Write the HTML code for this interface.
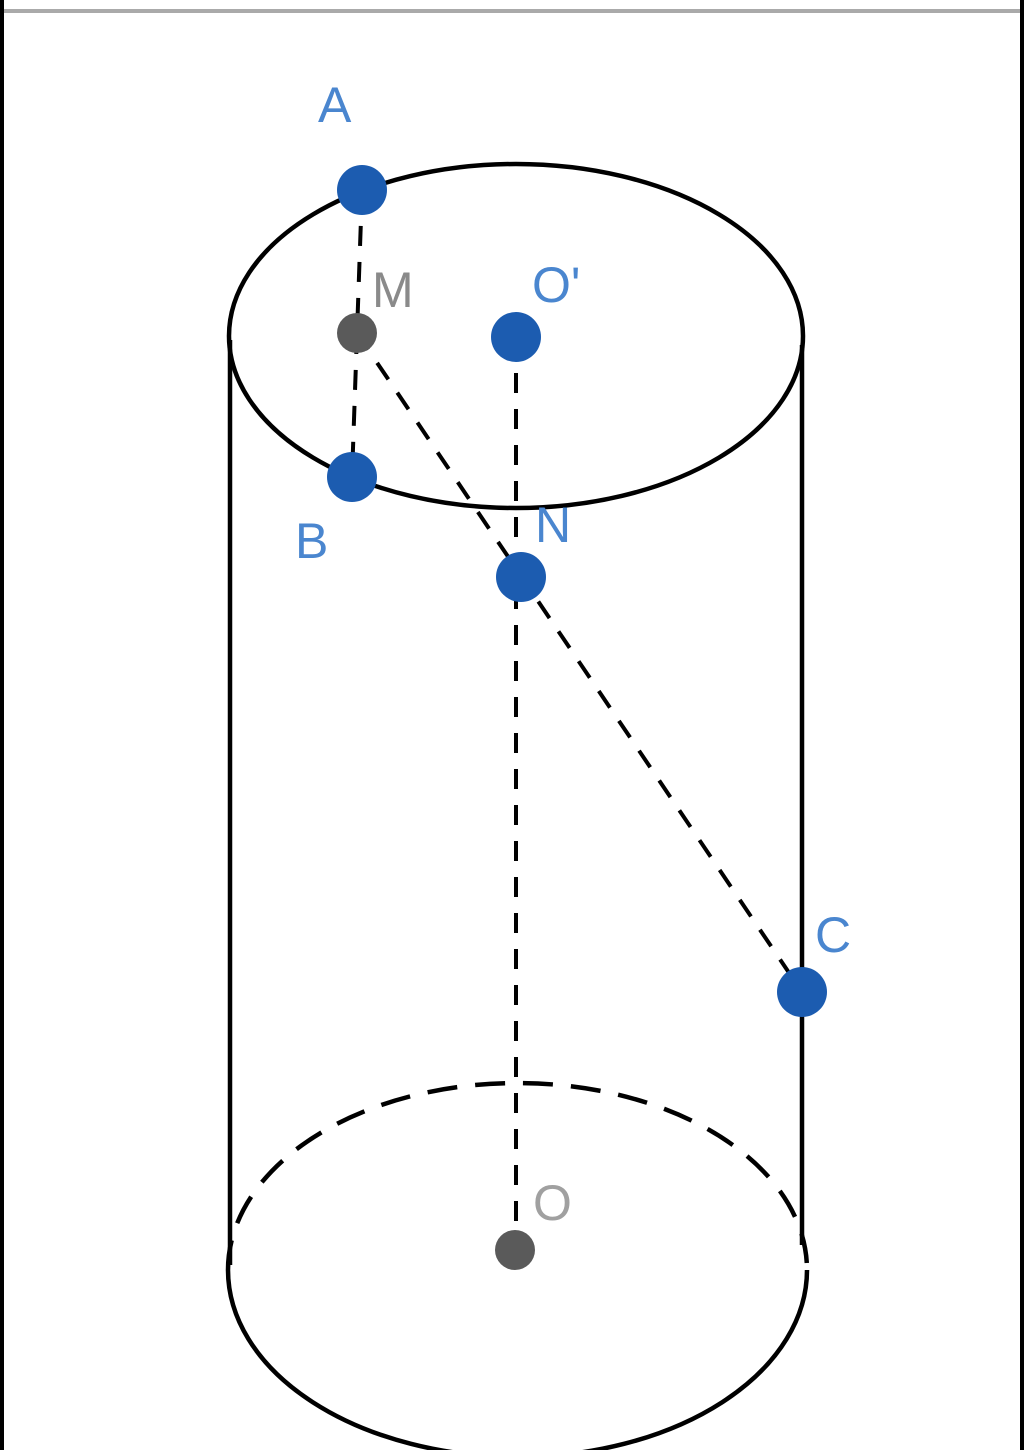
<!DOCTYPE html>
<html><head><style>html,body{margin:0;padding:0;background:#fff;}</style></head>
<body>
<svg width="1024" height="1450" viewBox="0 0 1024 1450" xmlns="http://www.w3.org/2000/svg">
<rect x="0" y="0" width="1024" height="1450" fill="#fff"/>
<rect x="0" y="0" width="4" height="1450" fill="#000"/>
<rect x="1020" y="0" width="4" height="1450" fill="#000"/>
<rect x="4" y="9" width="1016" height="4" fill="#aaa"/>
<g fill="none" stroke="#000" stroke-width="4.5">
<ellipse cx="516" cy="336" rx="287" ry="172"/>
<line x1="230" y1="340" x2="230" y2="1265"/>
<line x1="802" y1="345" x2="802" y2="1245"/>
<path d="M228 1270 A288 186 0 0 0 807 1270"/>
<path d="M228 1270 A288 186 0 0 1 807 1270" stroke-dasharray="30 18"/>
<g stroke-width="4" stroke-dasharray="20 16">
<line x1="362" y1="190" x2="352" y2="477"/>
<line x1="357" y1="333" x2="802" y2="992"/>
<line x1="516" y1="337" x2="516" y2="1250"/>
</g>
</g>
<g fill="#1c5cb0">
<circle cx="362" cy="190" r="25"/>
<circle cx="516" cy="337" r="25"/>
<circle cx="352" cy="477" r="25"/>
<circle cx="521" cy="577" r="25"/>
<circle cx="802" cy="992" r="25"/>
</g>
<g fill="#5a5a5a">
<circle cx="357" cy="333" r="20"/>
<circle cx="515" cy="1250" r="20"/>
</g>
<g font-family="Liberation Sans, sans-serif" font-size="50">
<text x="318" y="122" fill="#4a86cf">A</text>
<text x="372" y="307" fill="#8a8a8a">M</text>
<text x="532" y="302" fill="#4a86cf">O'</text>
<text x="295" y="558" fill="#4a86cf">B</text>
<text x="535" y="542" fill="#4a86cf">N</text>
<text x="815" y="952" fill="#4a86cf">C</text>
<text x="533" y="1220" fill="#a0a0a0">O</text>
</g>
</svg>
</body></html>
